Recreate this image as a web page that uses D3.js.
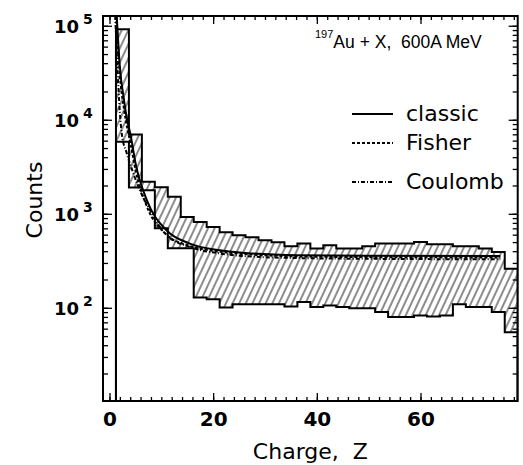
<!DOCTYPE html>
<html>
<head>
<meta charset="utf-8">
<script src="https://cdn.jsdelivr.net/npm/d3@7/dist/d3.min.js"></script>
<style>
  body { margin: 0; background: #fff; }
  svg text { fill: #000; }
</style>
</head>
<body>
<div id="chart"></div>
<script>
// histogram bins: width 2.5 in Z, first bin starts at Z = 1.25
const binStart = 1.25, binWidth = 2.5;
const upperCounts = [92000, 6970, 2190, 1920, 1515, 927, 820, 725, 636, 591, 563, 523, 498, 452, 482, 427,
                     462, 427, 427, 452, 482, 482, 482, 501, 474, 474, 452, 452, 427, 393, 261];
const lowerCounts = [5850, 1900, 1785, 701, 430, 430, 129, 123, 101, 109, 109, 109, 109, 103, 115, 102,
                     106, 102, 99, 99, 90, 80, 80, 83, 81, 83, 109, 102, 102, 90, 55];

// model curves (Z, counts)
const classicZ      = [1.4, 2.0, 2.8, 3.4, 4.0, 5.1, 7.2, 11, 15.5, 21.3, 27.7, 36.4, 50, 75.4];
const classicCounts = [127000, 36800, 16300, 10000, 7200, 3300, 1400, 668, 482, 409, 378, 362, 357, 355];
const fisherZ       = [1.3, 2.0, 2.8, 3.4, 4.0, 5.1, 7.2, 11, 15.5, 21.3, 27.7, 36.4, 50, 75.4];
const fisherCounts  = [127000, 30000, 13000, 8300, 5800, 2800, 1200, 600, 455, 395, 368, 352, 346, 343];
const coulombZ      = [1.1, 1.5, 2.0, 2.36, 3.33, 4.6, 5.57, 7.82, 11.05, 15.5, 21.3, 27.7, 36.4, 50, 75.4];
const coulombCounts = [127000, 40000, 12000, 7200, 4400, 2700, 1940, 1090, 590, 444, 378, 350, 338, 332, 328];

const xMajorTicks = [0, 20, 40, 60];
const yMajorTicks = [1e2, 1e3, 1e4, 1e5];
const legendItems = ["classic", "Fisher", "Coulomb"];
const legendDash = ["none", "3,2", "4,2,1,2"];

const W = 523, H = 465;
const plot = {left: 103, right: 517.7, top: 16, bottom: 401};

const svg = d3.select("#chart").append("svg")
    .attr("width", W).attr("height", H);

const x = d3.scaleLinear().domain([-1.25, 78.75]).range([plot.left, plot.right]);
const y = d3.scaleLog().domain([10.2, 1.27e5]).range([plot.bottom, plot.top]);

const defs = svg.append("defs");
defs.append("clipPath").attr("id", "clip")
  .append("rect")
    .attr("x", plot.left).attr("y", plot.top)
    .attr("width", plot.right - plot.left).attr("height", plot.bottom - plot.top);

defs.append("pattern")
    .attr("id", "hatch")
    .attr("patternUnits", "userSpaceOnUse")
    .attr("width", 6).attr("height", 10)
    .attr("patternTransform", "rotate(25)")
  .append("line")
    .attr("x1", 3).attr("y1", 0).attr("x2", 3).attr("y2", 10)
    .attr("stroke", "#000").attr("stroke-width", 0.9);

const g = svg.append("g").attr("clip-path", "url(#clip)");

// hatched band between lower and upper histogram
const band = upperCounts.map((u, i) => ({z: binStart + i * binWidth, hi: u, lo: lowerCounts[i]}));
band.push({z: binStart + upperCounts.length * binWidth, hi: upperCounts[upperCounts.length - 1], lo: lowerCounts[lowerCounts.length - 1]});

g.append("path")
    .datum(band)
    .attr("fill", "url(#hatch)")
    .attr("d", d3.area().curve(d3.curveStepAfter)
        .x(d => x(d.z)).y0(d => y(d.lo)).y1(d => y(d.hi)));

function histPoints(counts) {
    const end = binStart + counts.length * binWidth;
    const pts = [{z: binStart, v: 1}];
    counts.forEach((v, i) => pts.push({z: binStart + i * binWidth, v: v}));
    pts.push({z: end, v: counts[counts.length - 1]});
    pts.push({z: end, v: 1});
    return pts;
}

const stepLine = d3.line().curve(d3.curveStepAfter).x(d => x(d.z)).y(d => y(d.v));
[upperCounts, lowerCounts].forEach(c => {
    g.append("path")
        .datum(histPoints(c))
        .attr("fill", "none")
        .attr("stroke", "#000")
        .attr("stroke-width", 2)
        .attr("d", stepLine);
});

// model curves
const curveLine = d3.line().curve(d3.curveMonotoneX).x(d => x(d[0])).y(d => y(d[1]));
const curves = [
    {z: classicZ, c: classicCounts, dash: legendDash[0]},
    {z: fisherZ, c: fisherCounts, dash: legendDash[1]},
    {z: coulombZ, c: coulombCounts, dash: legendDash[2]}
];
curves.forEach(cv => {
    g.append("path")
        .datum(d3.zip(cv.z, cv.c))
        .attr("fill", "none")
        .attr("stroke", "#000")
        .attr("stroke-width", 2)
        .attr("stroke-dasharray", cv.dash)
        .attr("d", curveLine);
});

// axes (ticks point inwards)
const xMinor = d3.range(0, 79, 2);
const yMinor = [];
for (let e = 1; e <= 5; e++) {
    for (let k = 1; k <= 9; k++) {
        const v = k * Math.pow(10, e);
        if (v > y.domain()[0] && v < y.domain()[1]) yMinor.push(v);
    }
}

function cleanAxis(sel) {
    sel.select(".domain").remove();
    sel.selectAll(".tick line").attr("stroke", "#000").attr("stroke-width", 1.3);
}

svg.append("g").attr("transform", `translate(0,${plot.bottom})`)
    .call(d3.axisBottom(x).tickValues(xMinor).tickSize(-4).tickFormat(""))
    .call(cleanAxis);
svg.append("g").attr("transform", `translate(0,${plot.top})`)
    .call(d3.axisTop(x).tickValues(xMinor).tickSize(-4).tickFormat(""))
    .call(cleanAxis);
svg.append("g").attr("transform", `translate(0,${plot.bottom})`)
    .call(d3.axisBottom(x).tickValues(xMajorTicks).tickSize(-8).tickPadding(11).tickFormat(d3.format("d")))
    .call(cleanAxis)
    .call(a => a.selectAll("text")
        .style("font-family", "DejaVu Sans").style("font-weight", "bold").style("font-size", "20px"));
svg.append("g").attr("transform", `translate(0,${plot.top})`)
    .call(d3.axisTop(x).tickValues(xMajorTicks).tickSize(-8).tickFormat(""))
    .call(cleanAxis);

svg.append("g").attr("transform", `translate(${plot.left},0)`)
    .call(d3.axisLeft(y).tickValues(yMinor).tickSize(-5).tickFormat(""))
    .call(cleanAxis);
svg.append("g").attr("transform", `translate(${plot.right},0)`)
    .call(d3.axisRight(y).tickValues(yMinor).tickSize(-5).tickFormat(""))
    .call(cleanAxis);
svg.append("g").attr("transform", `translate(${plot.left},0)`)
    .call(d3.axisLeft(y).tickValues(yMajorTicks).tickSize(-9).tickFormat(""))
    .call(cleanAxis);
svg.append("g").attr("transform", `translate(${plot.right},0)`)
    .call(d3.axisRight(y).tickValues(yMajorTicks).tickSize(-9).tickFormat(""))
    .call(cleanAxis);

// y tick labels: 10 with superscript exponent
const yLab = svg.append("g").selectAll("g")
    .data(yMajorTicks)
    .join("g")
    .attr("transform", d => `translate(0,${y(d)})`)
    .style("font-family", "DejaVu Sans").style("font-weight", "bold");
yLab.append("text")
    .attr("x", 79).attr("y", 7)
    .attr("text-anchor", "end")
    .style("font-size", "18px")
    .text("10");
yLab.append("text")
    .attr("x", 83).attr("y", -2)
    .style("font-size", "14px")
    .text(d => Math.round(Math.log10(d)));

// frame
svg.append("rect")
    .attr("x", plot.left).attr("y", plot.top)
    .attr("width", plot.right - plot.left).attr("height", plot.bottom - plot.top)
    .attr("fill", "none").attr("stroke", "#000").attr("stroke-width", 2);

// axis titles
svg.append("text")
    .attr("x", (plot.left + plot.right) / 2).attr("y", 459)
    .attr("text-anchor", "middle")
    .style("font-family", "DejaVu Sans").style("font-size", "22px")
    .style("white-space", "pre")
    .text("Charge,  Z");
svg.append("text")
    .attr("transform", "translate(42,200) rotate(-90)")
    .attr("text-anchor", "middle")
    .style("font-family", "DejaVu Sans").style("font-size", "22px")
    .text("Counts");

// reaction label
const title = svg.append("text")
    .attr("x", 315).attr("y", 48)
    .style("font-family", "Liberation Sans").style("font-size", "17.5px")
    .style("white-space", "pre");
title.append("tspan").attr("dy", -10).style("font-size", "11px").text("197");
title.append("tspan").attr("dy", 10).text("Au + X,  600A MeV");

// legend
const leg = svg.append("g").selectAll("g")
    .data(legendItems)
    .join("g")
    .attr("transform", (d, i) => `translate(0,${[114, 143, 182][i]})`);
leg.append("line")
    .attr("x1", 352).attr("x2", 393)
    .attr("stroke", "#000").attr("stroke-width", 2)
    .attr("stroke-dasharray", (d, i) => legendDash[i]);
leg.append("text")
    .attr("x", 406).attr("y", 7)
    .style("font-family", "DejaVu Sans").style("font-size", "22px")
    .text(d => d);
</script>
</body>
</html>
